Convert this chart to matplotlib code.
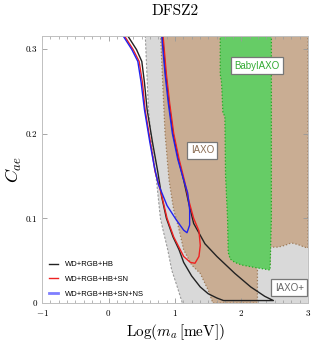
import matplotlib
matplotlib.use("Agg")
import matplotlib.pyplot as plt
from matplotlib.ticker import MultipleLocator

plt.rcParams['font.family'] = 'serif'
plt.rcParams['font.serif'] = ['cmr10']
plt.rcParams['mathtext.fontset'] = 'cm'
plt.rcParams['axes.formatter.use_mathtext'] = True

# IAXO+ (light gray) left edge
gray_x = [0.55, 0.60, 0.66, 0.72, 0.78, 0.82, 0.89, 0.95, 1.03, 1.11]
gray_y = [0.32, 0.228, 0.18, 0.145, 0.10, 0.086, 0.063, 0.039, 0.02, 0.0]

# IAXO (beige) outline
iaxo_x = [0.78, 0.82, 0.85, 0.91, 0.98, 1.05, 1.13, 1.25, 1.38, 1.50, 1.57,
          2.24, 2.24, 2.43, 2.43, 2.55, 2.65, 2.75, 2.85, 2.95, 3.0, 3.0]
iaxo_y = [0.32, 0.25, 0.20, 0.145, 0.11, 0.09, 0.063, 0.045, 0.035, 0.015, 0.0,
          0.0, 0.045, 0.045, 0.066, 0.066, 0.068, 0.071, 0.069, 0.066, 0.065, 0.32]

# BabyIAXO (green) outline
baby_x = [1.68, 1.68, 1.70, 1.72, 1.75, 1.76, 1.79, 1.80, 1.83, 1.90, 2.00, 2.20, 2.43, 2.45, 2.45]
baby_y = [0.32, 0.27, 0.26, 0.225, 0.22, 0.15, 0.10, 0.06, 0.052, 0.048, 0.045, 0.042, 0.039, 0.10, 0.32]

# hint contours
wd_x = [0.28, 0.29, 0.42, 0.50, 0.54, 0.58, 0.66, 0.74, 0.80, 0.87, 0.97, 1.06, 1.13, 1.25, 1.38,
        1.50, 1.63, 1.73, 2.10, 2.48,
        2.35, 2.14, 1.90, 1.63, 1.45, 1.28, 1.20, 1.13, 1.05, 0.97, 0.91, 0.86, 0.81, 0.80]
wd_y = [0.33, 0.315, 0.299, 0.285, 0.26, 0.228, 0.19, 0.155, 0.125, 0.10, 0.078, 0.063, 0.048, 0.032, 0.019,
        0.011, 0.006, 0.003, 0.003, 0.003,
        0.008, 0.019, 0.035, 0.055, 0.07, 0.094, 0.12, 0.145, 0.17, 0.20, 0.235, 0.27, 0.315, 0.33]

sn_x = [0.23, 0.24, 0.37, 0.46, 0.51, 0.55, 0.63, 0.70, 0.78, 0.88, 0.98, 1.13, 1.23, 1.30, 1.36,
        1.38, 1.36, 1.28, 1.21, 1.14, 1.06, 0.98, 0.92, 0.87, 0.82, 0.81]
sn_y = [0.33, 0.315, 0.299, 0.285, 0.26, 0.228, 0.19, 0.155, 0.133, 0.10, 0.078, 0.055, 0.048, 0.047, 0.055,
        0.068, 0.085, 0.10, 0.12, 0.145, 0.17, 0.20, 0.235, 0.27, 0.315, 0.33]

ns_x = [0.21, 0.22, 0.35, 0.44, 0.49, 0.54, 0.62, 0.69, 0.75, 0.88, 1.02, 1.13, 1.18, 1.22, 1.22,
        1.19, 1.12, 1.04, 0.96, 0.90, 0.85, 0.80, 0.79]
ns_y = [0.33, 0.315, 0.299, 0.285, 0.26, 0.228, 0.19, 0.16, 0.14, 0.115, 0.098, 0.086, 0.083, 0.092, 0.11,
        0.13, 0.148, 0.17, 0.20, 0.235, 0.27, 0.315, 0.33]

fig = plt.figure(figsize=(3.12, 3.46), dpi=100)
ax = fig.add_axes([0.135, 0.124, 0.852, 0.772])

ax.fill(gray_x + [3.0, 3.0], gray_y + [0.0, 0.32], color='#d9d9d9', lw=0)
ax.plot(gray_x, gray_y, color='#9a9a9a', ls=(0, (2, 1.5)), lw=0.8)
ax.fill(iaxo_x, iaxo_y, facecolor='#c9ad93', edgecolor='#9c7a58', ls=':', lw=0.9)
ax.fill(baby_x, baby_y, facecolor='#66cc66', edgecolor='#22aa22', ls=':', lw=0.9)

ax.plot(wd_x, wd_y, color='#222222', lw=1.0, label='WD+RGB+HB')
ax.plot(sn_x, sn_y, color='#ee2222', lw=1.0, label='WD+RGB+HB+SN')
ax.plot(ns_x, ns_y, color='#2222ee', lw=1.0, label='WD+RGB+HB+SN+NS')

box = dict(boxstyle='square,pad=0.35', fc='white', ec='#777777', lw=0.9)
ax.text(2.23, 0.280, 'BabyIAXO', color='#33aa33', fontsize=7, family='Liberation Sans',
        ha='center', va='center', bbox=box)
ax.text(1.41, 0.180, 'IAXO', color='#8c6f55', fontsize=7, family='Liberation Sans',
        ha='center', va='center', bbox=box)
ax.text(2.72, 0.018, 'IAXO+', color='#666666', fontsize=7, family='Liberation Sans',
        ha='center', va='center', bbox=box)

leg = ax.legend(loc='lower left', bbox_to_anchor=(0.0, -0.005), frameon=False,
                prop={'family': 'Liberation Sans', 'size': 5.5}, handlelength=1.2,
                handletextpad=0.9, labelspacing=0.95)
leg.get_lines()[2].set_color('#7f7fff')
leg.get_lines()[2].set_linewidth(2.0)

ax.set_xlim(-1, 3)
ax.set_ylim(0, 0.315)
ax.xaxis.set_major_locator(MultipleLocator(1))
ax.xaxis.set_minor_locator(MultipleLocator(0.125))
ax.set_yticks([0, 0.1, 0.2, 0.3])
ax.set_yticklabels(['0', '0.1', '0.2', '0.3'])
ax.tick_params(which='both', direction='in', top=True, right=True, colors='#999999',
               labelcolor='black', labelsize=6.5)
ax.tick_params(which='major', length=3.5, width=0.6)
ax.tick_params(which='minor', length=2, width=0.5)
for s in ax.spines.values():
    s.set_color('#c0c0c0')
    s.set_linewidth(0.7)

ax.set_title('DFSZ2', fontsize=11, pad=15)
ax.set_xlabel(r'Log$(m_a\,[\mathrm{meV}])$', fontsize=11, labelpad=3)
ax.set_ylabel(r'$C_{ae}$', fontsize=13, labelpad=1)

fig.savefig('out.png', dpi=100)
